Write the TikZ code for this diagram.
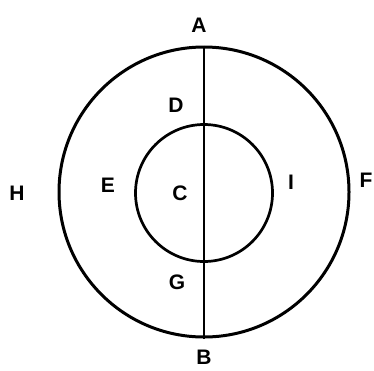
\documentclass[tikz,border=0pt]{standalone}
\usepackage{fontspec}
\setmainfont{Liberation Sans}
\begin{document}
\begin{tikzpicture}[x=1pt,y=-1pt,
  lbl/.style={font=\bfseries\fontsize{21}{21}\selectfont, inner sep=0pt},
  ring/.style={draw, circle, line width=3pt, inner sep=0pt}]
\useasboundingbox (0,0) rectangle (374,370);
\node[ring, minimum size=290pt] (outer) at (204,192) {};
\node[ring, minimum size=137pt, line width=2.7pt] (inner) at (204,193) {};
\draw[line width=2.3pt] (outer.north) -- (outer.south);
\node[lbl] (A) at (199,25) {A};
\node[lbl] (B) at (204,357) {B};
\node[lbl] (C) at (180,193) {C};
\node[lbl] (D) at (176,105) {D};
\node[lbl] (E) at (108,185) {E};
\node[lbl] (F) at (366,180) {F};
\node[lbl] (G) at (177,282) {G};
\node[lbl] (H) at (17,193) {H};
\node[lbl] (I) at (291,182) {I};
\end{tikzpicture}
\end{document}
